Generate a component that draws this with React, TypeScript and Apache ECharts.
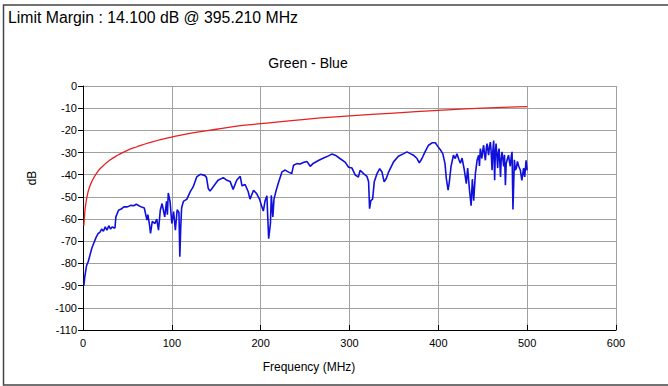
import React, { useEffect, useRef } from "react";
import * as echarts from "echarts";

const limitText = "Limit Margin : 14.100 dB @ 395.210 MHz";
const chartTitle = "Green - Blue";
const xAxisName = "Frequency (MHz)";
const yAxisName = "dB";

// Limit line (red): [MHz, dB]
const limitLine: [number, number][] = [
  [1, -63], [2, -57], [3, -53.5], [5, -49], [7, -46], [10, -43], [15, -39.5],
  [20, -37], [30, -33.5], [40, -31], [50, -29], [60, -27.5], [75, -25.5],
  [100, -23], [125, -21], [150, -19.5], [175, -18], [200, -17], [250, -15],
  [300, -13.5], [350, -12.2], [400, -11], [450, -10], [500, -9.3],
];

// Measured difference (blue): [MHz, dB]
const measured: [number, number][] = [
  [1, -90], [2, -86], [4, -81], [6, -79], [8, -76], [10, -73], [13, -70], [15, -68],
  [17, -66.5], [19, -66], [21, -64.5], [23, -65.5], [25, -63.5], [27, -65], [29, -63],
  [31, -64.5], [33, -63.5], [35, -64], [36, -64], [37, -59], [40, -56], [43, -55.5],
  [46, -54.5], [50, -54.5], [54, -53.8], [57, -54], [60, -53.3], [63, -54], [66, -54.6],
  [69, -55], [72, -60.5], [73, -58], [75, -63], [76, -66.4], [78, -61], [81, -62],
  [83, -60], [85, -65], [87, -56], [89, -53], [90, -55], [92, -59], [94, -52], [95, -58],
  [96, -48.2], [98, -52], [100, -62], [102, -56.6], [104, -65], [106, -55.8], [108, -57],
  [109, -77], [110, -64], [111, -55], [113, -52], [117, -51], [120.6, -47.7], [124, -45.5],
  [128, -41], [132, -39.8], [137, -40.3], [139, -41.2], [141, -46.2], [143, -47.4],
  [147, -45.2], [152, -42.5], [158, -41.3], [162, -42.5], [165.6, -43], [169, -46.6],
  [173, -42.5], [177, -40.7], [179, -45], [182.5, -44.4], [186, -47.7], [188, -51],
  [192, -47], [195.6, -48.6], [198.7, -51], [201, -54], [203, -56.4], [205, -51.7],
  [207, -49.5], [209, -68.8], [211, -62], [212, -49.3], [213.7, -59], [215, -51],
  [217.5, -47], [220, -43.6], [224, -38.7], [227.6, -37.9], [231, -38.7], [235, -39.5],
  [237, -35.7], [240.7, -35], [244.5, -35.2], [248, -34.5], [252, -34], [255.8, -36.2],
  [259.5, -34.8], [265, -33.6], [270.8, -32.5], [276.4, -31.5], [280, -30.7], [284, -31.2],
  [289.6, -32.8], [295, -34.3], [299, -36.6], [302.8, -37], [306.5, -40.2], [310, -41],
  [312, -38], [315.8, -39.5], [319.6, -40.7], [321.5, -43.2], [322.6, -55.3], [324, -51.7],
  [326, -51], [327.9, -43.2], [331, -39.5], [334, -37.3], [336.6, -38.8], [339, -43.2],
  [341.4, -41.7], [344, -38.8], [349.6, -34.2], [355, -31.7], [361, -30.5], [364.7, -29.7],
  [368.5, -30.5], [372, -31.2], [376, -32.7], [378.6, -34.6], [381.6, -32.7], [385, -29.7],
  [389, -26.7], [393, -25.6], [396.6, -25.6], [399, -27], [402, -28.6], [405, -30.5],
  [407.5, -35], [409, -41.7], [411, -47], [412.4, -43.2], [414.3, -36.2], [417, -31.2],
  [419, -32.7], [421, -30.5], [423, -33], [424.8, -34.8], [426.7, -32.5], [429, -37.3],
  [431.5, -44], [433, -37], [435, -46.6], [436.9, -54], [438.3, -42], [439.8, -51.7],
  [441.7, -39.5], [443.6, -33.5], [445.4, -31.2], [446.3, -36], [447.3, -28.2], [449, -32.7],
  [450, -29], [451, -26.7], [452, -31], [453, -33.5], [454, -28], [454.8, -26], [456.6, -31.2],
  [457.6, -27], [458.6, -25.3], [459.5, -30], [460.5, -38], [461.4, -29], [462.3, -24.6],
  [463.4, -42.5], [464.2, -30], [465, -26], [466.8, -37], [467.6, -30], [468.4, -28.2],
  [470, -41], [470.8, -33], [471.7, -29.7], [473.6, -36.2], [474.5, -31], [475.5, -44.7],
  [476.4, -35], [477.3, -33.5], [479, -31.2], [480, -34], [481, -36.2], [482, -32],
  [483, -29.7], [484, -55.7], [485.6, -33.3], [486.7, -38], [487.9, -36.9], [489, -34],
  [490.5, -36.2], [492.4, -38], [494, -42.5], [496, -37], [497.2, -41], [498.8, -33.5],
  [500, -38],
];

const FONT = "Liberation Sans, Arial, sans-serif";

export default function App() {
  const ref = useRef<HTMLDivElement>(null);
  useEffect(() => {
    if (!ref.current) return;
    const chart = echarts.init(ref.current, null, { renderer: "svg" });
    chart.setOption({
      animation: false,
      backgroundColor: "#ffffff",
      textStyle: { fontFamily: FONT },
      grid: { left: 83, right: 52, top: 86, bottom: 56, containLabel: false },
      xAxis: {
        type: "value",
        min: 0,
        max: 600,
        interval: 100,
        axisLine: { show: true, onZero: false, lineStyle: { color: "#000", width: 1 } },
        axisTick: { show: true, inside: true, length: 5, lineStyle: { color: "#000" } },
        axisLabel: { color: "#000", fontSize: 11, fontFamily: FONT, margin: 7 },
        splitLine: { show: true, lineStyle: { color: "#a0a0a0", width: 1 } },
      },
      yAxis: {
        type: "value",
        min: -110,
        max: 0,
        interval: 10,
        axisLine: { show: true, onZero: false, lineStyle: { color: "#000", width: 1 } },
        axisTick: { show: true, inside: false, length: 5, lineStyle: { color: "#000" } },
        axisLabel: { color: "#000", fontSize: 11, fontFamily: FONT, margin: 6 },
        splitLine: { show: true, lineStyle: { color: "#a0a0a0", width: 1 } },
      },
      series: [
        {
          type: "line",
          data: limitLine,
          smooth: true,
          showSymbol: false,
          lineStyle: { color: "#e82020", width: 1.3 },
          z: 3,
        },
        {
          type: "line",
          data: measured,
          showSymbol: false,
          lineStyle: { color: "#1010dd", width: 1.6 },
          z: 2,
        },
      ],
      graphic: [
        {
          type: "polyline",
          shape: { points: [[683, 5], [3.5, 5], [3.5, 385], [683, 385]] },
          style: { stroke: "#444", lineWidth: 1.5, fill: "none" },
          silent: true,
        },
        {
          type: "text",
          left: 8,
          top: 9,
          style: { text: limitText, fontSize: 15.8, fontFamily: FONT, fill: "#000" },
        },
        {
          type: "text",
          x: 308,
          y: 63,
          style: {
            text: chartTitle, fontSize: 14, fontFamily: FONT, fill: "#000",
            align: "center", verticalAlign: "middle",
          },
        },
        {
          type: "text",
          x: 309,
          y: 367,
          style: {
            text: xAxisName, fontSize: 12, fontFamily: FONT, fill: "#000",
            align: "center", verticalAlign: "middle",
          },
        },
        {
          type: "text",
          x: 32,
          y: 178,
          rotation: Math.PI / 2,
          style: {
            text: yAxisName, fontSize: 12, fontFamily: FONT, fill: "#000",
            align: "center", verticalAlign: "middle",
          },
        },
      ],
    });
    return () => chart.dispose();
  }, []);
  return (
    <div
      ref={ref}
      style={{ position: "fixed", left: 0, top: 0, width: 668, height: 386 }}
    />
  );
}
